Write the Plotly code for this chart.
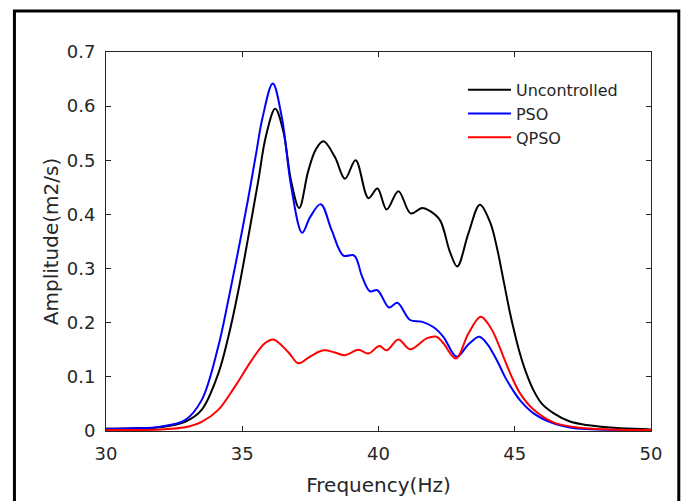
import plotly.graph_objects as go

# Uncontrolled
f_unc = [30, 31, 32, 32.9, 33.51, 34.12, 34.49, 34.86, 35.22, 35.59, 35.87, 36.21, 36.5, 36.8, 37.09,
         37.42, 37.7, 37.98, 38.4, 38.77, 39.16, 39.63, 39.96, 40.30, 40.73, 41.18, 41.6, 41.9,
         42.26, 42.62, 42.89, 43.3, 43.72, 44.1, 44.34, 44.6, 44.83, 45.0, 45.19, 45.4, 45.68,
         46.0, 46.42, 47.0, 47.64, 48.9, 50]
a_unc = [0.004, 0.005, 0.007, 0.017, 0.039, 0.106, 0.174, 0.260, 0.358, 0.463, 0.545, 0.595, 0.555, 0.46, 0.412,
         0.48, 0.52, 0.535, 0.506, 0.466, 0.500, 0.430, 0.448, 0.409, 0.443, 0.402, 0.412, 0.406,
         0.389, 0.331, 0.304, 0.365, 0.418, 0.385, 0.340, 0.275, 0.217, 0.180, 0.143, 0.110, 0.076,
         0.050, 0.033, 0.018, 0.011, 0.005, 0.003]

# PSO
f_pso = [30, 31, 32, 32.9, 33.51, 34.12, 34.49, 34.86, 35.22, 35.5, 35.75, 36.12, 36.45, 36.8,
         37.20, 37.49, 37.88, 38.28, 38.71, 39.11, 39.4, 39.69, 39.96, 40.39, 40.69, 41.16,
         41.58, 42.01, 42.38, 42.87, 43.3, 43.70, 44.0, 44.21, 44.4, 44.64, 44.9, 45.19, 45.68,
         46.42, 47.2, 48, 50]
a_pso = [0.004, 0.005, 0.008, 0.020, 0.057, 0.156, 0.242, 0.335, 0.430, 0.510, 0.580, 0.642, 0.58, 0.45,
         0.366, 0.395, 0.419, 0.371, 0.324, 0.324, 0.285, 0.258, 0.260, 0.228, 0.237, 0.205,
         0.202, 0.192, 0.174, 0.137, 0.160, 0.174, 0.160, 0.143, 0.125, 0.100, 0.078, 0.057, 0.033,
         0.014, 0.005, 0.003, 0.002]

# QPSO
f_qpso = [30, 31, 32, 32.9, 33.51, 34.12, 34.73, 35.35, 35.83, 36.14, 36.7, 37.06, 37.5, 37.98, 38.4,
          38.77, 39.26, 39.63, 40.03, 40.30, 40.73, 41.16, 41.77, 42.13, 42.38, 42.84, 43.3,
          43.75, 44.1, 44.34, 44.6, 44.89, 45.19, 45.68, 46.42, 47.4, 48.5, 50]
a_qpso = [0.002, 0.002, 0.003, 0.007, 0.017, 0.039, 0.082, 0.131, 0.162, 0.169, 0.145, 0.125, 0.138, 0.149, 0.145,
          0.140, 0.150, 0.143, 0.157, 0.149, 0.169, 0.151, 0.171, 0.174, 0.162, 0.134, 0.180,
          0.211, 0.192, 0.168, 0.135, 0.100, 0.070, 0.040, 0.016, 0.006, 0.003, 0.002]

x_ticks = [30, 35, 40, 45, 50]
y_ticks = [0, 0.1, 0.2, 0.3, 0.4, 0.5, 0.6, 0.7]
y_tick_text = ["0", "0.1", "0.2", "0.3", "0.4", "0.5", "0.6", "0.7"]

font_family = "DejaVu Sans, sans-serif"
axis_col = "#262626"

fig = go.Figure()
for name, fx, ay, col in [("Uncontrolled", f_unc, a_unc, "#000000"),
                          ("PSO", f_pso, a_pso, "#0000ff"),
                          ("QPSO", f_qpso, a_qpso, "#ff0000")]:
    fig.add_trace(go.Scatter(x=fx, y=ay, mode="lines", name=name,
                             line=dict(color=col, width=2, shape="spline", smoothing=1.0)))

fig.update_layout(
    width=683, height=501,
    margin=dict(l=106, r=32, t=52, b=70),
    paper_bgcolor="white", plot_bgcolor="white",
    font=dict(family=font_family, color=axis_col, size=16),
    showlegend=True,
    legend=dict(x=0.655, y=0.945, xanchor="left", yanchor="top",
                bgcolor="rgba(0,0,0,0)", font=dict(size=16, color=axis_col),
                itemwidth=43),
    shapes=[dict(type="rect", xref="paper", yref="paper",
                 x0=-0.168, x1=1.051, y0=-0.2, y1=1.108,
                 line=dict(color="black", width=3), fillcolor="rgba(0,0,0,0)", layer="above")],
)
fig.update_xaxes(range=[30, 50], tickvals=x_ticks, ticks="inside", ticklen=5,
                 showline=True, linecolor=axis_col, linewidth=1, mirror="ticks",
                 showgrid=False, zeroline=False, tickcolor=axis_col, automargin=False,
                 tickfont=dict(size=18, color=axis_col), ticklabelstandoff=6,
                 title=dict(text="Frequency(Hz)", font=dict(size=20, color=axis_col), standoff=15))
fig.update_yaxes(range=[0, 0.7], tickvals=y_ticks, ticktext=y_tick_text, ticks="inside", ticklen=5,
                 showline=True, linecolor=axis_col, linewidth=1, mirror="ticks",
                 showgrid=False, zeroline=False, tickcolor=axis_col, automargin=False,
                 tickfont=dict(size=18, color=axis_col), ticklabelstandoff=6,
                 title=dict(text="Amplitude(m2/s)", font=dict(size=20, color=axis_col), standoff=2))

fig.write_html("out.html")
